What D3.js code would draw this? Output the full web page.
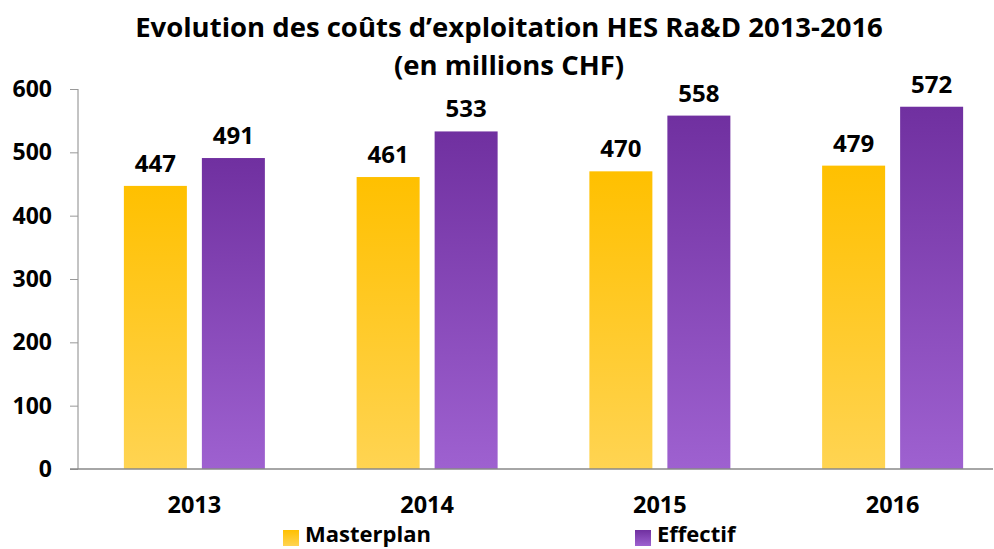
<!DOCTYPE html>
<html>
<head>
<meta charset="utf-8">
<title>Evolution des coûts d'exploitation HES Ra&D</title>
<script src="https://cdn.jsdelivr.net/npm/d3@7"></script>
<style>
  body { margin: 0; background: #fff; }
  text { font-family: "Open Sans", Lato, sans-serif; font-weight: 700; fill: #000; }
</style>
</head>
<body>
<script>
  var years = ["2013", "2014", "2015", "2016"];
  var masterplan = [447, 461, 470, 479];
  var effectif = [491, 533, 558, 572];
  var yTicks = [0, 100, 200, 300, 400, 500, 600];
  var seriesNames = ["Masterplan", "Effectif"];

  var width = 994, height = 549;

  var svg = d3.select("body").append("svg")
      .attr("width", width)
      .attr("height", height);

  var defs = svg.append("defs");
  var gy = defs.append("linearGradient").attr("id", "gradY")
      .attr("x1", 0).attr("y1", 0).attr("x2", 0).attr("y2", 1);
  gy.append("stop").attr("offset", "0%").attr("stop-color", "#ffc000");
  gy.append("stop").attr("offset", "100%").attr("stop-color", "#ffd452");
  var gp = defs.append("linearGradient").attr("id", "gradP")
      .attr("x1", 0).attr("y1", 0).attr("x2", 0).attr("y2", 1);
  gp.append("stop").attr("offset", "0%").attr("stop-color", "#7030a0");
  gp.append("stop").attr("offset", "100%").attr("stop-color", "#9e61d0");

  var x = d3.scaleBand().domain(years).range([78, 1009]);
  var y = d3.scaleLinear().domain([0, 600]).range([469, 89]);

  var barW = 63, gap = 15;

  // title
  svg.append("text").attr("x", 509).attr("y", 37)
      .attr("text-anchor", "middle").style("font-size", "27.5px")
      .text("Evolution des coûts d’exploitation HES Ra&D 2013-2016");
  svg.append("text").attr("x", 509).attr("y", 75)
      .attr("text-anchor", "middle").style("font-size", "27.5px")
      .text("(en millions CHF)");

  // y axis
  var yAxis = svg.append("g").attr("transform", "translate(78,0)")
      .call(d3.axisLeft(y).tickValues(yTicks).tickSize(8).tickPadding(18));
  yAxis.select(".domain").attr("stroke", "#888").attr("d", "M0," + y(600) + "V" + y(0));
  yAxis.selectAll(".tick line").attr("stroke", "#999");
  yAxis.selectAll(".tick text").style("font-size", "23px")
      .style("font-family", "'Open Sans', sans-serif").style("font-weight", 700).attr("fill", "#000");

  // bars
  var groups = svg.selectAll(".grp").data(years).enter().append("g")
      .attr("class", "grp")
      .attr("transform", function(d) { return "translate(" + (x(d) + x.bandwidth() / 2) + ",0)"; });

  groups.append("rect")
      .attr("x", -gap / 2 - barW).attr("width", barW)
      .attr("y", function(d, i) { return y(masterplan[i]); })
      .attr("height", function(d, i) { return y(0) - y(masterplan[i]); })
      .attr("fill", "url(#gradY)");
  groups.append("rect")
      .attr("x", gap / 2).attr("width", barW)
      .attr("y", function(d, i) { return y(effectif[i]); })
      .attr("height", function(d, i) { return y(0) - y(effectif[i]); })
      .attr("fill", "url(#gradP)");

  groups.append("text")
      .attr("x", -gap / 2 - barW / 2)
      .attr("y", function(d, i) { return y(masterplan[i]) - 14; })
      .attr("text-anchor", "middle").style("font-size", "24px")
      .text(function(d, i) { return masterplan[i]; });
  groups.append("text")
      .attr("x", gap / 2 + barW / 2)
      .attr("y", function(d, i) { return y(effectif[i]) - 14; })
      .attr("text-anchor", "middle").style("font-size", "24px")
      .text(function(d, i) { return effectif[i]; });

  // x axis
  svg.append("line").attr("x1", 70).attr("x2", 993)
      .attr("y1", y(0)).attr("y2", y(0))
      .attr("stroke", "#888").attr("stroke-width", 1.5);
  groups.append("text").attr("x", 0).attr("y", 513)
      .attr("text-anchor", "middle").style("font-size", "23.5px")
      .text(function(d) { return d; });

  // legend
  var legend = svg.selectAll(".leg").data(seriesNames).enter().append("g")
      .attr("class", "leg")
      .attr("transform", function(d, i) { return "translate(" + [283, 635][i] + ",530)"; });
  legend.append("rect").attr("width", 16).attr("height", 16)
      .attr("fill", function(d, i) { return i ? "url(#gradP)" : "url(#gradY)"; });
  legend.append("text").attr("x", 22).attr("y", 12).style("font-size", "22px")
      .text(function(d) { return d; });
</script>
</body>
</html>
